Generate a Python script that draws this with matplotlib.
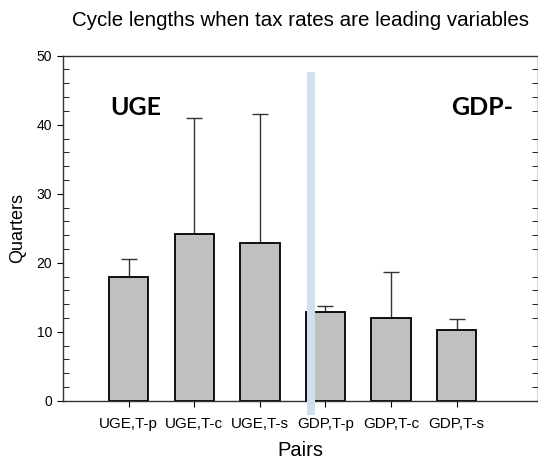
import matplotlib
matplotlib.use("Agg")
import matplotlib.pyplot as plt
import matplotlib.patches as patches
from matplotlib.ticker import MultipleLocator

# data
pairs = ["UGE,T-p", "UGE,T-c", "UGE,T-s", "GDP,T-p", "GDP,T-c", "GDP,T-s"]
means = [17.9, 24.1, 22.8, 12.9, 12.0, 10.2]
upper_err = [2.7, 16.9, 18.8, 0.9, 6.6, 1.6]

plt.rcParams['font.family'] = ['Liberation Sans', 'DejaVu Sans']

fig = plt.figure(figsize=(5.38, 4.66), dpi=100)
ax = fig.add_axes([0.1171, 0.140, 0.8829, 0.7405])

x = list(range(len(pairs)))
ax.bar(x, means, width=0.6, color='#c0c0c0', edgecolor='black', linewidth=1.3, zorder=2)
ax.errorbar(x, means, yerr=[[0] * len(means), upper_err], fmt='none',
            ecolor='#333333', elinewidth=1, capsize=5.5, capthick=1, zorder=1)

# separator band between the two groups
band = patches.Rectangle((2.72, -2.1), 0.12, 49.8, facecolor='#cfe0f0',
                         edgecolor='none', clip_on=False, zorder=3)
ax.add_patch(band)

ax.set_xlim(-1.0, 6.24)
ax.set_ylim(0, 50)
ax.set_xticks(x)
ax.set_xticklabels(pairs, fontsize=11)
ax.yaxis.set_major_locator(MultipleLocator(10))
ax.yaxis.set_minor_locator(MultipleLocator(2))
ax.tick_params(axis='y', which='major', direction='out', length=4, labelsize=10, pad=4, right=False)
ax.tick_params(axis='y', which='minor', direction='in', length=4, right=True)
ax.tick_params(axis='x', which='major', direction='out', length=4, pad=8)

for s in ax.spines.values():
    s.set_color('#333333')
    s.set_linewidth(1)

# group labels, positioned in pixels from the top-left of the figure
for label, px in [('UGE', 110), ('GDP-', 451)]:
    fig.text(px / 538, 1 - 115 / 466, label, fontsize=18,
             fontweight='bold', family=['Lato', 'DejaVu Sans'])

ax.set_ylabel('Quarters', fontsize=13, labelpad=7)
ax.set_xlabel('Pairs', fontsize=14.5, labelpad=7)
fig.text(301 / 538, 1 - 20 / 466, 'Cycle lengths when tax rates are leading variables',
         ha='center', va='center', fontsize=14.8)

fig.savefig('out.png', dpi=100)
